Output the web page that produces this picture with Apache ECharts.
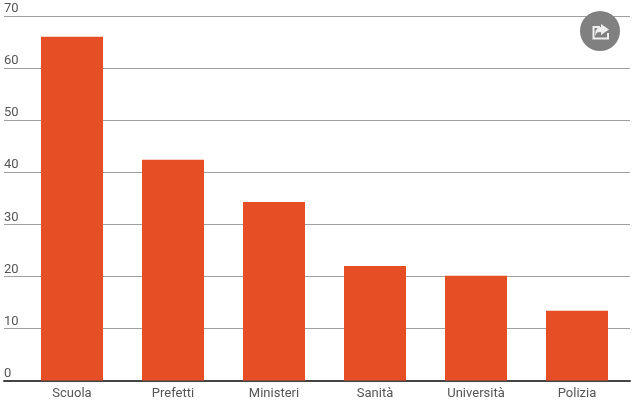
<!DOCTYPE html>
<html>
<head>
<meta charset="utf-8">
<style>html,body{margin:0;padding:0;background:#fff}#c{width:637px;height:408px}</style>
<script src="https://cdn.jsdelivr.net/npm/echarts@6/dist/echarts.min.js"></script>
</head>
<body>
<div id="c"></div>
<script>
const categories = ['Scuola','Prefetti','Ministeri','Sanità','Università','Polizia'];
const values = [66, 42.4, 34.3, 22, 20.1, 13.4];
const chart = echarts.init(document.getElementById('c'), null, {renderer:'canvas'});
chart.setOption({
  animation:false,
  backgroundColor:'#fff',
  grid:[
    {left:4,right:7,top:16,height:364.5},
    {left:21.5,width:606,top:16,height:364.5}
  ],
  xAxis:[
    {gridIndex:0,type:'value',min:0,max:1,show:true,axisLabel:{show:false},axisTick:{show:false},splitLine:{show:false},
     axisLine:{show:true,onZero:false,lineStyle:{color:'#444',width:2}}},
    {gridIndex:1,type:'category',data:categories,axisLine:{show:false},axisTick:{show:false},
     axisLabel:{color:'#555',fontFamily:'Roboto',fontSize:13,margin:7,interval:0}}
  ],
  yAxis:[
    {gridIndex:0,type:'value',min:0,max:70,interval:10,axisLine:{show:false},axisTick:{show:false},
     axisLabel:{inside:true,color:'#555',fontFamily:'Roboto',fontSize:13,margin:0,verticalAlign:'bottom',lineHeight:14},
     splitLine:{show:true,lineStyle:{color:'#a0a0a0',width:1}}},
    {gridIndex:1,type:'value',min:0,max:70,interval:10,show:false}
  ],
  series:[{
    type:'bar',xAxisIndex:1,yAxisIndex:1,data:values,barWidth:62,
    itemStyle:{color:'#e64e25'},z:3
  }],
  graphic:[
    {type:'circle',shape:{cx:600,cy:31,r:20},style:{fill:'#808080'},z:10},
    {type:'polyline',shape:{points:[[600,27],[593.5,27],[593.5,38.5],[608,38.5],[608,33]]},style:{fill:null,stroke:'#eee',lineWidth:2},z:11},
    {type:'polygon',shape:{points:[[601,24],[609,29.5],[601,35],[601,32],[597,32.5],[595,36],[595.5,31],[598,27.5],[601,27]]},style:{fill:'#eee'},z:11}
  ]
});
</script>
</body>
</html>
